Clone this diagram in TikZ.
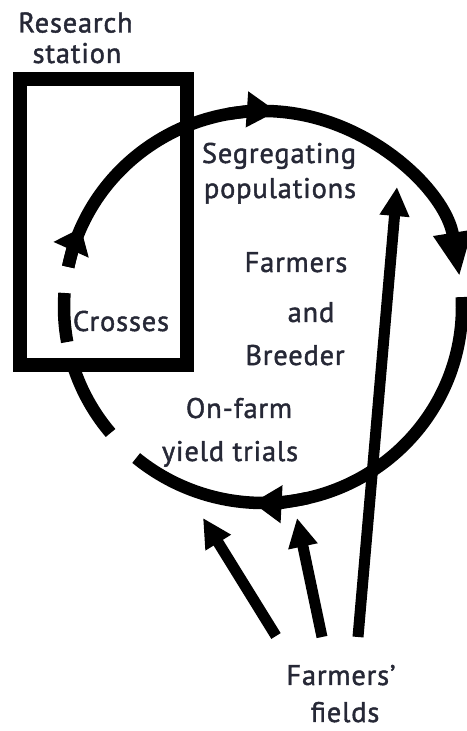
\documentclass[tikz,border=0pt]{standalone}
\usepackage{fontspec}
\setmainfont{PT Sans}[LetterSpace=3,FakeBold=1.5]
\usetikzlibrary{arrows.meta,calc}
\definecolor{ink}{RGB}{38,40,54}
\begin{document}
\begin{tikzpicture}[x=1bp,y=1bp,
  loop/.style={line width=12.5bp, black},
  feed/.style={line width=11bp, black, -{Triangle[length=29bp,width=28bp]}},
  lbl/.style={text=ink, font=\fontsize{28.5}{32}\selectfont, inner sep=0pt, anchor=base},
]
\useasboundingbox (0,0) rectangle (467,731);

% centre of the breeding cycle
\coordinate (C) at (263,424);

% research station box
\draw[line width=14bp] (19.7,651.5) rectangle (186.5,365.5);

% upper arc: crosses -> segregating populations -> down the right side
\draw[loop, -{Triangle[length=44bp,width=36bp]}]
  ($(C)+(168.2:199 and 196)$) arc[start angle=168.2, end angle=9, x radius=199, y radius=196];
\draw[loop, -{Triangle[length=24bp,width=37bp]}]
  ($(C)+(168.2:199 and 196)$) arc[start angle=168.2, end angle=156.2, x radius=199, y radius=196];
\draw[loop, -{Triangle[length=30bp,width=34bp]}]
  ($(C)+(100:199 and 196)$) arc[start angle=100, end angle=86, x radius=199, y radius=196];

% right and bottom arc towards the on-farm trials
\draw[loop]
  ($(C)+(2.9:199 and 196)$) arc[start angle=2.9, end angle=-129.6, x radius=199, y radius=196];
\draw[loop, -{Triangle[length=29bp,width=36bp]}]
  ($(C)+(-77:199 and 196)$) arc[start angle=-77, end angle=-93, x radius=199, y radius=196];

% short pieces on the left side
\draw[loop]
  ($(C)+(175.9:199 and 196)$) arc[start angle=175.9, end angle=190.3, x radius=199, y radius=196];
\draw[loop]
  ($(C)+(196:199 and 196)$) arc[start angle=196, end angle=220, x radius=199, y radius=196];

% labels
\node[lbl] (research) at (75.5,698.5) {Research};
\node[lbl] (stationlbl) at (77,668) {station};
\node[lbl] (seg) at (279,568) {Segregating};
\node[lbl] (pop) at (280,533) {populations};
\node[lbl] (farmers) at (296,459) {Farmers};
\node[lbl] (and) at (311,409) {and};
\node[lbl] (breeder) at (295,366) {Breeder};
\node[lbl] (crosses) at (121,400) {Crosses};
\node[lbl] (onfarm) at (239,313) {On-farm};
\node[lbl] (yield) at (230,270) {yield trials};
\node[lbl] (ff) at (341,46) {Farmers’};
\node[lbl] (fields) at (345,9) {fields};

% arrows from the farmers' fields
\coordinate (s1) at (276,95);  \coordinate (t1) at (203,213);
\coordinate (s2) at (322,94);  \coordinate (t2) at (297,213);
\coordinate (s3) at (358,94);  \coordinate (t3) at (397,544);
\draw[feed] (s1) -- (t1);
\draw[feed] (s2) -- (t2);
\draw[feed] (s3) -- (t3);
\end{tikzpicture}
\end{document}
